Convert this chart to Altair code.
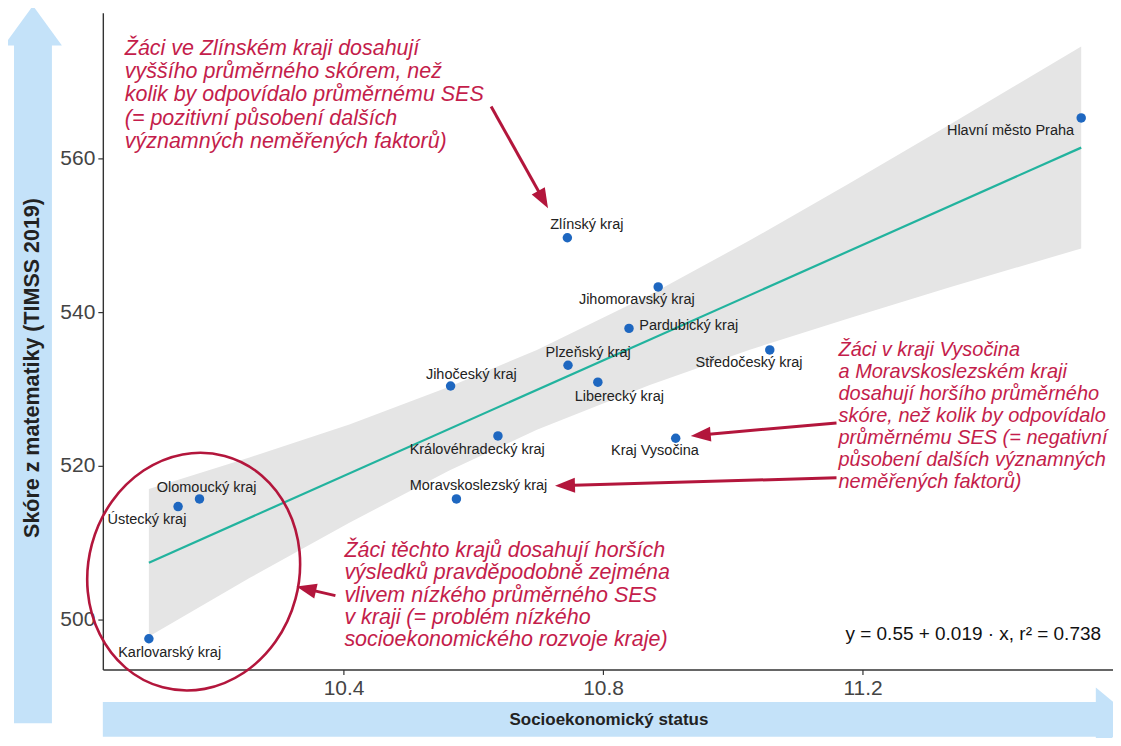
import math
import altair as alt
import pandas as pd

# ---------------- data ----------------
regions = ["Karlovarský kraj", "Ústecký kraj", "Olomoucký kraj", "Jihočeský kraj",
           "Plzeňský kraj", "Liberecký kraj", "Královéhradecký kraj", "Moravskoslezský kraj",
           "Zlínský kraj", "Jihomoravský kraj", "Pardubický kraj", "Středočeský kraj",
           "Kraj Vysočina", "Hlavní město Praha"]
ses = [10.100, 10.145, 10.178, 10.565, 10.746, 10.792, 10.638, 10.574,
       10.745, 10.885, 10.840, 11.057, 10.912, 11.537]
score = [497.5, 514.7, 515.7, 530.4, 533.1, 530.9, 523.9, 515.7,
         549.7, 543.3, 537.9, 535.1, 523.6, 565.3]
# label anchor positions (data units, as placed in the picture)
label_x = [10.132, 10.097, 10.189, 10.597, 10.777, 10.825, 10.606, 10.608,
           10.775, 10.852, 10.932, 11.025, 10.880, 11.428]
label_y = [495.6, 513.0, 517.1, 531.8, 534.7, 529.0, 522.1, 517.4,
           551.3, 541.6, 538.2, 533.4, 522.0, 563.6]

# fitted line and its confidence band
line_x = [10.100, 11.537]
line_y = [507.40, 561.43]
band_x = [10.100, 10.255, 10.409, 10.563, 10.698, 10.871, 11.025, 11.178, 11.332, 11.537]
band_hi = [517.0, 521.1, 525.4, 530.3, 535.1, 542.2, 549.3, 556.7, 564.3, 574.6]
band_lo = [497.8, 505.4, 512.6, 519.4, 524.7, 530.5, 535.1, 539.2, 543.2, 548.3]

x_ticks = [10.4, 10.8, 11.2]
y_ticks = [500, 520, 540, 560]

x_title = "Socioekonomický status"
y_title = "Skóre z matematiky (TIMSS 2019)"
formula = "y = 0.55 + 0.019 ·  x,  r² = 0.738"

note_top = ["Žáci ve Zlínském kraji dosahují",
            "vyššího průměrného skórem, než",
            "kolik by odpovídalo průměrnému SES",
            "(= pozitivní působení dalších",
            "významných neměřených faktorů)"]
note_right = ["Žáci v kraji Vysočina",
              "a Moravskoslezském kraji",
              "dosahují horšího průměrného",
              "skóre, než kolik by odpovídalo",
              "průměrnému SES (= negativní",
              "působení dalších významných",
              "neměřených faktorů)"]
note_bottom = ["Žáci těchto krajů dosahují horších",
               "výsledků pravděpodobně zejména",
               "vlivem nízkého průměrného SES",
               "v kraji (= problém nízkého",
               "socioekonomického rozvoje kraje)"]

# ---------------- layout / style ----------------
W, H = 1012, 658
PL, PT = 95, 4
FONT = "Liberation Sans"
RED = "#c41d4b"
ARROW_RED = "#b3163c"
BLUE_ARROW = "#c4e2f9"

def px(x):  # page x -> plot x
    return x - 8 - PL

def py(y):  # page y -> plot y
    return y - 8 - PT

one = pd.DataFrame({"k": [0]})
xs = alt.Scale(domain=[10.029, 11.586], nice=False, zero=False)
ys = alt.Scale(domain=[493.5, 579.0], nice=False, zero=False)

pts = pd.DataFrame({"region": regions, "ses": ses, "score": score,
                    "lx": label_x, "ly": label_y})
band = pd.DataFrame({"x": band_x, "lo": band_lo, "hi": band_hi})
line = pd.DataFrame({"x": line_x, "y": line_y})

band_layer = alt.Chart(band).mark_area(color="#e5e5e5", opacity=1).encode(
    x=alt.X("x:Q", scale=xs,
            axis=alt.Axis(values=x_ticks, format=".1f", title=None)),
    y=alt.Y("lo:Q", scale=ys,
            axis=alt.Axis(values=y_ticks, format="d", title=None)),
    y2="hi:Q")

line_layer = alt.Chart(line).mark_line(color="#22b39e", strokeWidth=2.2).encode(
    x=alt.X("x:Q", scale=xs), y=alt.Y("y:Q", scale=ys))

point_layer = alt.Chart(pts).mark_circle(size=90, color="#1e67c0", opacity=1).encode(
    x=alt.X("ses:Q", scale=xs), y=alt.Y("score:Q", scale=ys))

label_layer = alt.Chart(pts).mark_text(font=FONT, fontSize=14.5, color="#222222").encode(
    x=alt.X("lx:Q", scale=xs), y=alt.Y("ly:Q", scale=ys), text="region:N")


def note(lines, x, y, size=21.5, lh=23):
    return alt.Chart(one).mark_text(
        font=FONT, fontSize=size, fontStyle="italic", color=RED,
        align="left", baseline="top", lineHeight=lh).encode(
        x=alt.value(px(x)), y=alt.value(py(y)), text=alt.value(lines))


def arrow(x0, y0, x1, y1, color=ARROW_RED, width=3, head=20):
    dx, dy = x1 - x0, y1 - y0
    L = math.hypot(dx, dy)
    ux, uy = dx / L, dy / L
    ang = math.degrees(math.atan2(dx, -dy)) % 360
    s = head / 2
    cx, cy = x1 - ux * s, y1 - uy * s
    r = alt.Chart(one).mark_rule(color=color, strokeWidth=width).encode(
        x=alt.value(px(x0)), y=alt.value(py(y0)),
        x2=alt.value(px(cx)), y2=alt.value(py(cy)))
    t = alt.Chart(one).mark_point(
        shape="M 0 -1 L 0.75 1 L -0.75 1 Z", size=head * head, filled=True,
        fill=color, strokeWidth=0, opacity=1, angle=ang).encode(
        x=alt.value(px(cx)), y=alt.value(py(cy)))
    return [r, t]


# axis "arrows" (light blue)
y_shaft = alt.Chart(one).mark_rule(color=BLUE_ARROW, strokeWidth=38).encode(
    x=alt.value(px(33)), y=alt.value(py(44)), y2=alt.value(py(724)))
y_head = alt.Chart(one).mark_point(
    shape="M -1 0.69 L 0 -0.69 L 1 0.69 Z", size=58 * 58, filled=True,
    fill=BLUE_ARROW, strokeWidth=0, opacity=1).encode(
    x=alt.value(px(33)), y=alt.value(py(25)))
y_title_layer = alt.Chart(one).mark_text(
    font=FONT, fontSize=21.5, fontWeight="bold", color="#222222", angle=270).encode(
    x=alt.value(px(33)), y=alt.value(py(368)), text=alt.value(y_title))

x_shaft = alt.Chart(one).mark_rule(color=BLUE_ARROW, strokeWidth=35).encode(
    x=alt.value(px(103)), x2=alt.value(px(1100)), y=alt.value(py(720)))
x_head = alt.Chart(one).mark_point(
    shape="M -0.6 -1 L 0.6 0 L -0.6 1 Z", size=64 * 64, filled=True,
    fill=BLUE_ARROW, strokeWidth=0, opacity=1).encode(
    x=alt.value(px(1117)), y=alt.value(py(720)))
x_title_layer = alt.Chart(one).mark_text(
    font=FONT, fontSize=17, fontWeight="bold", color="#222222").encode(
    x=alt.value(px(610)), y=alt.value(py(721)), text=alt.value(x_title))

ellipse = alt.Chart(one).mark_point(
    shape="M -0.88 0 A 0.88 1 0 1 0 0.88 0 A 0.88 1 0 1 0 -0.88 0 Z",
    size=240 * 240, filled=False, stroke=ARROW_RED, strokeWidth=2.6,
    opacity=1, angle=15).encode(x=alt.value(px(194)), y=alt.value(py(572)))

formula_layer = alt.Chart(one).mark_text(
    font=FONT, fontSize=19, color="#111111").encode(
    x=alt.value(px(975)), y=alt.value(py(634)), text=alt.value(formula))

layers = [band_layer, line_layer, point_layer, label_layer,
          note(note_top, 125, 37, lh=23.5),
          note(note_right, 840, 340, size=20, lh=22),
          note(note_bottom, 345, 540, lh=22.5),
          ellipse, formula_layer,
          y_shaft, y_head, y_title_layer, x_shaft, x_head, x_title_layer]
layers += arrow(492, 106, 549, 208)
layers += arrow(838, 423, 692, 436)
layers += arrow(838, 478, 556, 486)
layers += arrow(336, 596, 297, 587)

chart = alt.layer(*layers).properties(
    width=W, height=H,
    autosize=alt.AutoSizeParams(type="none"),
    padding={"left": PL, "top": PT, "right": 0, "bottom": 68},
).configure_view(stroke=None).configure_axis(
    grid=False, domainColor="#333333", domainWidth=1.4,
    tickColor="#333333", tickSize=5, tickWidth=1.2,
    labelFont=FONT, labelFontSize=21, labelColor="#444444", labelPadding=3,
)

chart.save("out.html", embed_options={"renderer": "svg", "actions": False})
